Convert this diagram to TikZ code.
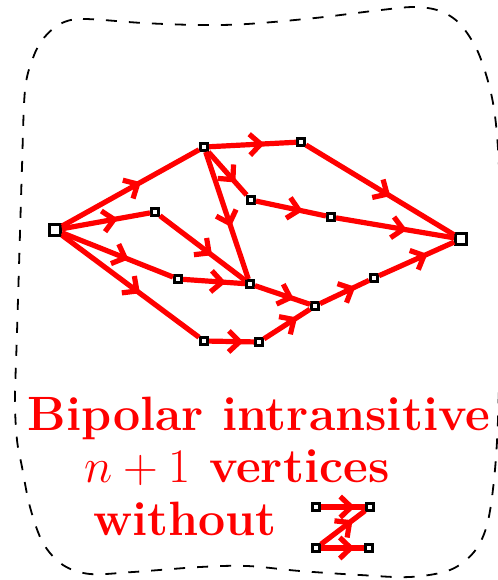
\documentclass[tikz,border=0pt]{standalone}
\usepackage{fix-cm}
\usetikzlibrary{arrows.meta,decorations.markings}
\tikzset{
  vtx/.style={
    rectangle,
    draw=black,
    fill=white,
    line width=1.3pt,
    minimum size=3.7pt,
    inner sep=0pt
  },
  pole/.style={vtx, line width=1.5pt, minimum size=5.4pt},
  flow/.style={
    draw=red,
    line width=2.6pt,
    postaction={decorate},
    decoration={markings,
      mark=at position 0.5 with {\arrow[red,xshift=6pt]{Straight Barb[length=5.5pt,width=10.5pt]}}}
  },
  redtxt/.style={text=red, inner sep=0pt, font=\fontsize{24.1}{29}\selectfont\bfseries}
}

\begin{document}
\begin{tikzpicture}[x=0.5pt, y=-0.5pt]
        \useasboundingbox (0,0) rectangle (498,580);
        % dashed frame
        \draw[line width=0.9pt, dash pattern=on 5.5pt off 6pt]
          plot[smooth cycle, tension=0.55] coordinates {
            (60,24) (83,19) (143,23) (200,25) (247,24) (315,18) (381,10) (415,7)
            (440,11) (460,24) (478,52) (491,93) (497,135) (500,200) (500,320)
            (498,420) (494,480) (487,525) (474,552) (450,570) (410,577) (360,575)
            (300,571) (247,566) (200,567) (133,572) (90,574) (63,565) (43,543)
            (30,507) (22,467) (17,440) (15,400) (17,333) (20,233) (22,167)
            (25,90) (33,58) (43,39)};
        % vertices
        \node[pole] (s) at (55,230) {};
        \node[pole] (t) at (461,239) {};
        \node[vtx] (a) at (204,147) {};
        \node[vtx] (b) at (301,142) {};
        \node[vtx] (c) at (155,212) {};
        \node[vtx] (d) at (251,200) {};
        \node[vtx] (e) at (331,217) {};
        \node[vtx] (f) at (178,279) {};
        \node[vtx] (g) at (250,284) {};
        \node[vtx] (h) at (315,306) {};
        \node[vtx] (i) at (374,278) {};
        \node[vtx] (j) at (204,341) {};
        \node[vtx] (k) at (259,342) {};
        % arcs
        \draw[flow] (s) -- (a);
        \draw[flow] (s) -- (c);
        \draw[flow] (s) -- (f);
        \draw[flow] (s) -- (j);
        \draw[flow] (a) -- (b);
        \draw[flow] (a) -- (d);
        \draw[flow] (a) -- (g);
        \draw[flow] (b) -- (t);
        \draw[flow] (c) -- (g);
        \draw[flow] (d) -- (e);
        \draw[flow] (e) -- (t);
        \draw[flow] (f) -- (g);
        \draw[flow] (g) -- (h);
        \draw[flow] (j) -- (k);
        \draw[flow] (k) -- (h);
        \draw[flow] (h) -- (i);
        \draw[flow] (i) -- (t);
        % caption
        \node[redtxt, anchor=base] (l1) at (259,430) {Bipolar intransitive};
        \node[redtxt, anchor=base] (l2) at (237,482) {$n+1$ vertices};
        \node[redtxt, anchor=base] (l3) at (185,535) {without};
        % the forbidden Z
        \node[vtx] (z1) at (316,507) {};
        \node[vtx] (z2) at (370,507) {};
        \node[vtx] (z3) at (316,548) {};
        \node[vtx] (z4) at (369,548) {};
        \draw[flow] (z1) -- (z2);
        \draw[flow] (z3) -- (z2);
        \draw[flow] (z3) -- (z4);
      \end{tikzpicture}
\end{document}
